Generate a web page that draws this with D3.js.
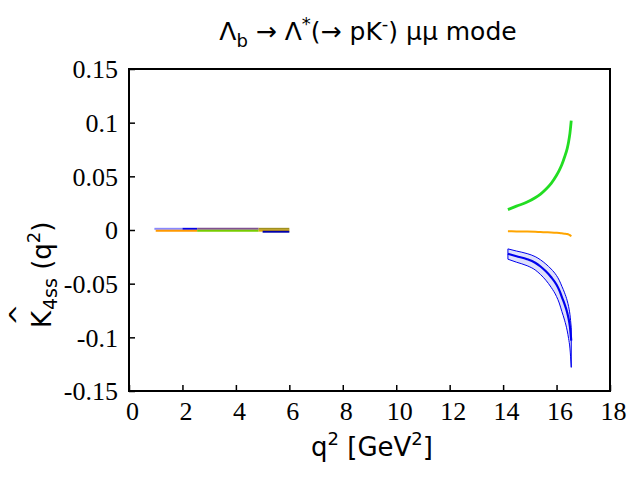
<!DOCTYPE html>
<html>
<head>
<meta charset="utf-8">
<script src="https://cdn.jsdelivr.net/npm/d3@7"></script>
<style>
  body { margin: 0; background: #fff; }
</style>
</head>
<body>
<svg id="chart"></svg>
<script>
// high q^2 region
var q2High = [14.18, 14.5, 14.9, 15.2, 15.4, 15.6, 15.8, 16.0, 16.1, 16.2, 16.3, 16.4, 16.45, 16.5, 16.55];
var greenHigh = [0.0190, 0.0222, 0.0260, 0.0300, 0.0335, 0.0380, 0.0435, 0.0510, 0.0556, 0.0610, 0.0680, 0.0760, 0.0820, 0.0900, 0.1020];
var blueHigh = [-0.0222, -0.0245, -0.0272, -0.0305, -0.0340, -0.0385, -0.0440, -0.0510, -0.0560, -0.0625, -0.0690, -0.0770, -0.0825, -0.0900, -0.1030];
var blueHighUp = [-0.0176, -0.0196, -0.0220, -0.0248, -0.0278, -0.0317, -0.0364, -0.0425, -0.0468, -0.0525, -0.0585, -0.0660, -0.0712, -0.0785, -0.0910];
var blueHighLo = [-0.0272, -0.0300, -0.0333, -0.0372, -0.0415, -0.0468, -0.0535, -0.0620, -0.0680, -0.0760, -0.0840, -0.0940, -0.1010, -0.1100, -0.1280];
var orangeHigh = [-0.0011, -0.0013, -0.0015, -0.0017, -0.0019, -0.0021, -0.0023, -0.0026, -0.0028, -0.0031, -0.0034, -0.0038, -0.0042, -0.0048, -0.0060];

// low q^2 region, short flat pieces near zero
var lowQ2 = [[0.95, 2.0], [2.0, 2.55], [2.55, 4.85], [4.85, 6.0], [1.0, 2.55], [2.55, 4.85], [4.85, 6.0], [5.0, 6.0]];
var lowVal = [0.0011, 0.0011, 0.0011, 0.0011, -0.0006, -0.0008, -0.0006, -0.0016];
var lowColor = ["#8888ff", "#0000ee", "#805090", "#a09020", "#ff9900", "#77cc00", "#ddaa00", "#0000aa"];

var xTicks = [0, 2, 4, 6, 8, 10, 12, 14, 16, 18];
var yTicks = [-0.15, -0.1, -0.05, 0, 0.05, 0.1, 0.15];
var yTickLabels = ["-0.15", "-0.1", "-0.05", "0", "0.05", "0.1", "0.15"];

var width = 640, height = 480;
var margin = {left: 129, right: 30, top: 69, bottom: 89};

var svg = d3.select("#chart").attr("width", width).attr("height", height);

var x = d3.scaleLinear().domain([0, 18]).range([margin.left, width - margin.right]);
var y = d3.scaleLinear().domain([-0.15, 0.15]).range([height - margin.bottom, margin.top]);

var plot = svg.append("g");

// blue band
var band = d3.area()
    .x(function(d) { return x(d.q); })
    .y0(function(d) { return y(d.lo); })
    .y1(function(d) { return y(d.up); })
    .curve(d3.curveMonotoneX);
var bandData = q2High.map(function(q, i) { return {q: q, lo: blueHighLo[i], up: blueHighUp[i]}; });
plot.append("path").attr("d", band(bandData)).attr("fill", "#dfe0fb").attr("stroke", "none");

var line = d3.line()
    .x(function(d) { return x(d[0]); })
    .y(function(d) { return y(d[1]); })
    .curve(d3.curveMonotoneX);

function series(vals) {
    return q2High.map(function(q, i) { return [q, vals[i]]; });
}

plot.append("path").attr("d", line(series(blueHighUp))).attr("fill", "none").attr("stroke", "#0000ee").attr("stroke-width", 1);
plot.append("path").attr("d", line(series(blueHighLo))).attr("fill", "none").attr("stroke", "#0000ee").attr("stroke-width", 1);
plot.append("path").attr("d", line(series(blueHigh))).attr("fill", "none").attr("stroke", "#0000ee").attr("stroke-width", 2.2);
// close the band at both ends
var last = q2High.length - 1;
plot.append("line").attr("x1", x(q2High[0])).attr("x2", x(q2High[0]))
    .attr("y1", y(blueHighUp[0])).attr("y2", y(blueHighLo[0])).attr("stroke", "#0000ee").attr("stroke-width", 1);
plot.append("line").attr("x1", x(q2High[last])).attr("x2", x(q2High[last]))
    .attr("y1", y(blueHighUp[last])).attr("y2", y(blueHighLo[last])).attr("stroke", "#0000ee").attr("stroke-width", 1);

plot.append("path").attr("d", line(series(orangeHigh))).attr("fill", "none").attr("stroke", "#ffa500").attr("stroke-width", 2);
plot.append("path").attr("d", line(series(greenHigh))).attr("fill", "none").attr("stroke", "#22dd22").attr("stroke-width", 2.8);

// low q^2 pieces
for (var i = 0; i < lowQ2.length; i++) {
    plot.append("path")
        .attr("d", d3.line()([[x(lowQ2[i][0]), y(lowVal[i])], [x(lowQ2[i][1]), y(lowVal[i])]]))
        .attr("stroke", lowColor[i])
        .attr("stroke-width", 2)
        .attr("fill", "none");
}

// axes
var xAxis = d3.axisBottom(x).tickValues(xTicks).tickSizeInner(-6).tickSizeOuter(0).tickPadding(11);
var yAxis = d3.axisLeft(y).tickValues(yTicks).tickSizeInner(-6).tickSizeOuter(0).tickPadding(11)
    .tickFormat(function(d, i) { return yTickLabels[i]; });

var gx = svg.append("g").attr("transform", "translate(0," + (height - margin.bottom) + ")").call(xAxis);
var gy = svg.append("g").attr("transform", "translate(" + margin.left + ",0)").call(yAxis);
[gx, gy].forEach(function(g) {
    g.select(".domain").remove();
    g.attr("font-family", "Liberation Serif").attr("font-size", 26);
    g.selectAll(".tick line").attr("stroke", "#000").attr("stroke-width", 1.5);
    g.selectAll(".tick text").attr("font-family", "Liberation Serif").attr("font-size", 26).attr("fill", "#000");
});
gx.selectAll(".tick text").attr("dy", "0.68em").attr("dx", 3);
gy.selectAll(".tick text").attr("dy", "0.34em");

// frame
svg.append("rect")
    .attr("x", margin.left).attr("y", margin.top)
    .attr("width", width - margin.left - margin.right)
    .attr("height", height - margin.bottom - margin.top)
    .attr("fill", "none").attr("stroke", "#000").attr("stroke-width", 2);

// title
var title = svg.append("text")
    .attr("x", 368).attr("y", 40)
    .attr("text-anchor", "middle")
    .attr("font-family", "DejaVu Sans")
    .attr("font-size", 25);
title.append("tspan").text("Λ");
title.append("tspan").text("b").attr("font-size", 18).attr("dy", 7);
title.append("tspan").text(" → Λ").attr("dy", -7);
title.append("tspan").text("*").attr("font-size", 18).attr("dy", -10);
title.append("tspan").text("(→ pK").attr("dy", 10);
title.append("tspan").text("-").attr("font-size", 18).attr("dy", -10);
title.append("tspan").text(") μμ mode").attr("dy", 10);

// x label
var xl = svg.append("text")
    .attr("x", 372).attr("y", 456)
    .attr("text-anchor", "middle")
    .attr("font-family", "DejaVu Sans")
    .attr("font-size", 26);
xl.append("tspan").text("q");
xl.append("tspan").text("2").attr("font-size", 18).attr("dy", -11);
xl.append("tspan").text(" [GeV").attr("dy", 11);
xl.append("tspan").text("2").attr("font-size", 18).attr("dy", -11);
xl.append("tspan").text("]").attr("dy", 11);

// y label
var yl = svg.append("g").attr("transform", "translate(51,328) rotate(-90)");
yl.append("text").attr("x", 0).attr("y", 0)
    .attr("font-family", "DejaVu Sans").attr("font-size", 26).text("K");
yl.append("text").attr("x", 2).attr("y", -24)
    .attr("font-family", "DejaVu Sans").attr("font-size", 24).attr("transform", "scale(1.1,1)").text("^");
var ys = yl.append("text").attr("x", 18).attr("y", 0)
    .attr("font-family", "DejaVu Sans").attr("font-size", 26);
ys.append("tspan").text("4ss").attr("font-size", 19).attr("dy", 6);
ys.append("tspan").text(" (q").attr("font-size", 26).attr("dy", -6);
ys.append("tspan").text("2").attr("font-size", 18).attr("dy", -11);
ys.append("tspan").text(")").attr("font-size", 26).attr("dy", 11);
</script>
</body>
</html>
